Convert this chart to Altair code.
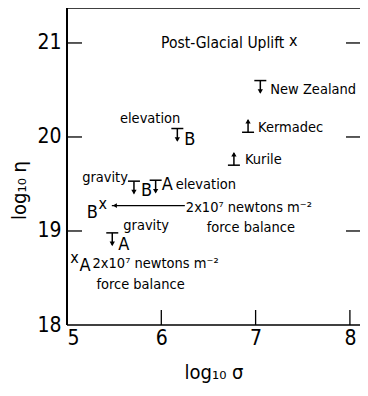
import altair as alt
import pandas as pd

# ---- data ----
sites = ["Post-Glacial Uplift", "New Zealand", "Kermadec", "Kurile",
         "elevation B", "gravity B", "elevation A", "force balance B",
         "gravity A", "force balance A"]
log_sigma = [7.40, 7.05, 6.92, 6.77, 6.17, 5.71, 5.94, 5.38, 5.48, 5.08]
log_eta = [21.0, 20.60, 20.05, 19.70, 20.09, 19.53, 19.54, 19.27, 18.98, 18.69]
kind = ["estimate", "upper", "lower", "lower", "upper", "upper", "upper",
        "estimate", "upper", "estimate"]

x_ticks = [5, 6, 7, 8]
y_ticks = [18, 19, 20, 21]
x_domain = [5, 8.107]
y_domain = [18, 21.372]

FONT = "DejaVu Sans Condensed, Liberation Sans Narrow, sans-serif"

df = pd.DataFrame({"site": sites, "sigma": log_sigma, "eta": log_eta, "kind": kind})

axis_x = alt.Axis(values=x_ticks, title="log\u2081\u2080 \u03c3", format="d",
                  labelPadding=2, titlePadding=14)
axis_y = alt.Axis(values=y_ticks, title="log\u2081\u2080 \u03b7", format="d",
                  labelPadding=6, titleX=-38, titleY=182)


def X(field="sigma"):
    return alt.X(field, type="quantitative",
                 scale=alt.Scale(domain=x_domain, nice=False, zero=False),
                 axis=axis_x)


def Y(field="eta"):
    return alt.Y(field, type="quantitative",
                 scale=alt.Scale(domain=y_domain, nice=False, zero=False),
                 axis=axis_y)


layers = []

# frame: left, bottom and top (right edge lies beyond the picture)
frame_v = pd.DataFrame({"sigma": [x_domain[0]], "eta": [y_domain[0]], "eta2": [y_domain[1]]})
frame_h = pd.DataFrame({"sigma": [x_domain[0], x_domain[0]],
                        "sigma2": [x_domain[1], x_domain[1]],
                        "eta": [y_domain[0], y_domain[1]]})
layers.append(alt.Chart(frame_v).mark_rule(color="black", strokeWidth=2)
              .encode(x=X(), y=Y(), y2="eta2"))
layers.append(alt.Chart(frame_h).mark_rule(color="black", strokeWidth=1.6)
              .encode(x=X(), x2="sigma2", y=Y()))

# inward tick marks
left_t = pd.DataFrame({"eta": y_ticks[1:], "sigma": [x_domain[0]] * 3})
right_t = pd.DataFrame({"eta": y_ticks[1:], "sigma": [x_domain[1]] * 3})
bottom_t = pd.DataFrame({"sigma": x_ticks[1:], "eta": [y_domain[0]] * 3})
layers.append(alt.Chart(left_t).mark_rule(x2Offset=15, color="black", strokeWidth=1.3)
              .encode(x=X(), x2="sigma", y=Y()))
layers.append(alt.Chart(right_t).mark_rule(xOffset=-14, color="black", strokeWidth=1.3)
              .encode(x=X(), x2="sigma", y=Y()))
layers.append(alt.Chart(bottom_t).mark_rule(y2Offset=-15, color="black", strokeWidth=1.3)
              .encode(x=X(), y=Y(), y2="eta"))

up = df[df.kind == "upper"]
lo = df[df.kind == "lower"]
est = df[df.kind == "estimate"]

# upper bounds: bar with arrow down
layers.append(alt.Chart(up).mark_rule(xOffset=-6, x2Offset=6, color="black", strokeWidth=1.5)
              .encode(x=X(), x2="sigma", y=Y()))
layers.append(alt.Chart(up).mark_rule(y2Offset=12, color="black", strokeWidth=1.5)
              .encode(x=X(), y=Y(), y2="eta"))
layers.append(alt.Chart(up).mark_point(shape="triangle-down", filled=True, size=28,
                                       yOffset=11, color="black", opacity=1)
              .encode(x=X(), y=Y()))
# lower bounds: bar with arrow up
layers.append(alt.Chart(lo).mark_rule(xOffset=-6, x2Offset=6, color="black", strokeWidth=1.5)
              .encode(x=X(), x2="sigma", y=Y()))
layers.append(alt.Chart(lo).mark_rule(y2Offset=-12, color="black", strokeWidth=1.5)
              .encode(x=X(), y=Y(), y2="eta"))
layers.append(alt.Chart(lo).mark_point(shape="triangle-up", filled=True, size=28,
                                       yOffset=-11, color="black", opacity=1)
              .encode(x=X(), y=Y()))
# estimates: x
layers.append(alt.Chart(est).mark_text(text="x", font=FONT, fontSize=16,
                                       dy=-2, baseline="middle", color="black")
              .encode(x=X(), y=Y()))

# arrow for force balance B
fbb = df[df.site == "force balance B"]
layers.append(alt.Chart(fbb).mark_rule(xOffset=9, x2Offset=82, color="black", strokeWidth=1.3)
              .encode(x=X(), x2="sigma", y=Y()))
layers.append(alt.Chart(fbb).mark_point(shape="triangle-left", filled=True, size=22,
                                        xOffset=12, color="black", opacity=1)
              .encode(x=X(), y=Y()))


def lab(site, text, dx, dy, align="left", size=14.5):
    d = df[df.site == site]
    return (alt.Chart(d).mark_text(text=text, align=align, dx=dx, dy=dy, font=FONT,
                                   fontSize=size, baseline="middle", color="black")
            .encode(x=X(), y=Y()))


layers += [
    lab("Post-Glacial Uplift", "Post-Glacial  Uplift", -9, 0, "right", size=15.5),
    lab("New Zealand", "New Zealand", 10, 9),
    lab("Kermadec", "Kermadec", 10, -4),
    lab("Kurile", "Kurile", 11, -5),
    lab("elevation B", "elevation", 3, -10, "right"),
    lab("elevation B", "B", 7, 11, size=18),
    lab("gravity B", "gravity", -6, -3, "right"),
    lab("gravity B", "B", 7, 10, size=18),
    lab("elevation A", "A", 6, 5, size=18),
    lab("elevation A", "elevation", 20, 5),
    lab("force balance B", "B", -5, 7, "right", size=18),
    lab("force balance B", "2x10\u2077 newtons  m\u207b\u00b2", 83, 2),
    lab("force balance B", "force balance", 148, 22, "center"),
    lab("gravity A", "A", 6, 12, size=18),
    lab("gravity A", "gravity", 11, -7),
    lab("force balance A", "A", 5, 6, size=18),
    lab("force balance A", "2x10\u2077 newtons  m\u207b\u00b2", 18, 4),
    lab("force balance A", "force balance", 66, 25, "center"),
]

chart = (alt.layer(*layers)
         .properties(width=293, height=317,
                     autosize=alt.AutoSizeParams(type="none"),
                     padding={"left": 59, "top": 0, "right": 0, "bottom": 62})
         .configure_view(strokeWidth=0)
         .configure_axis(grid=False, domain=False, ticks=False,
                         labelFont=FONT, labelFontSize=21, labelColor="black",
                         titleFont=FONT, titleFontSize=20, titleFontWeight="normal",
                         titleColor="black"))

chart.save("out.html", embed_options={"renderer": "svg", "actions": False})
